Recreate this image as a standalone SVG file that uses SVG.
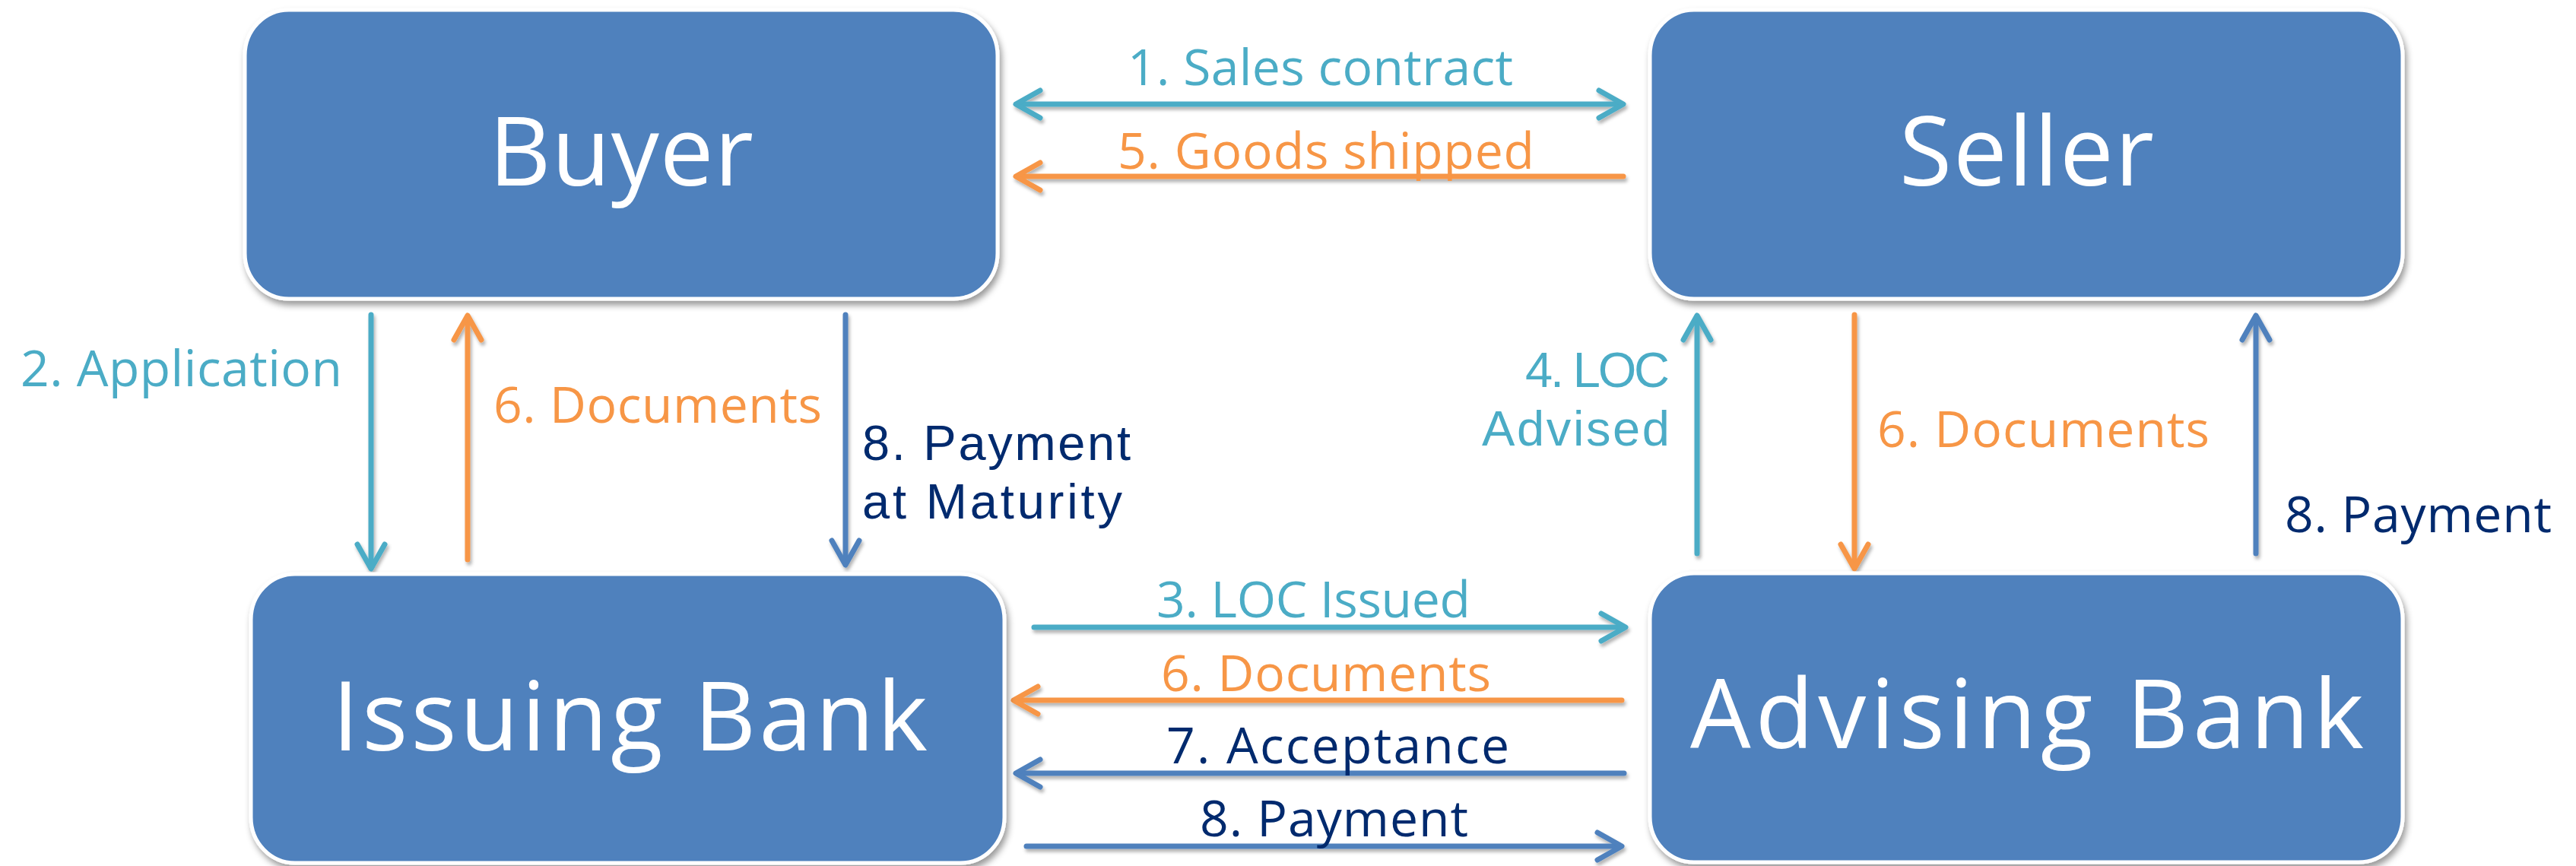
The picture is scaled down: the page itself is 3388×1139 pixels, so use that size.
<svg xmlns="http://www.w3.org/2000/svg" width="3388" height="1139" viewBox="0 0 3388 1139">
<style>
.node{fill:#4F81BD;stroke:#FFFFFF;stroke-width:5;filter:url(#sh)}
.nt{font-family:"Open Sans","Liberation Sans",sans-serif;font-size:126px;fill:#FFFFFF}
.lb{font-family:"Open Sans","Liberation Sans",sans-serif;font-size:66px}
.lb2{font-family:"Liberation Sans",Arial,sans-serif;font-size:65px}
.teal{fill:#4BACC6}.orange{fill:#F79646}.navy{fill:#002A6E}
.c{fill:none;stroke-width:7;stroke-linecap:round}
.ct{stroke:#4BACC6}.co{stroke:#F79646}.cb{stroke:#4F81BD}
</style>
<defs>
<filter id="sh" x="-10%" y="-10%" width="120%" height="130%">
<feDropShadow dx="3" dy="6" stdDeviation="4" flood-color="#000" flood-opacity="0.4"/>
</filter>
<filter id="lsh" x="-5%" y="-50%" width="110%" height="200%">
<feDropShadow dx="2" dy="4" stdDeviation="2" flood-color="#000" flood-opacity="0.3"/>
</filter>
<marker id="at" markerUnits="userSpaceOnUse" markerWidth="60" markerHeight="60" viewBox="-40 -30 60 60" refX="0" refY="0" orient="auto-start-reverse" overflow="visible">
<path d="M -28 -18 L 4 0 L -28 18" fill="none" stroke="#4BACC6" stroke-width="7" stroke-linecap="round" stroke-linejoin="round"/>
</marker>
<marker id="ao" markerUnits="userSpaceOnUse" markerWidth="60" markerHeight="60" viewBox="-40 -30 60 60" refX="0" refY="0" orient="auto-start-reverse" overflow="visible">
<path d="M -28 -18 L 4 0 L -28 18" fill="none" stroke="#F79646" stroke-width="7" stroke-linecap="round" stroke-linejoin="round"/>
</marker>
<marker id="ab" markerUnits="userSpaceOnUse" markerWidth="60" markerHeight="60" viewBox="-40 -30 60 60" refX="0" refY="0" orient="auto-start-reverse" overflow="visible">
<path d="M -28 -18 L 4 0 L -28 18" fill="none" stroke="#4F81BD" stroke-width="7" stroke-linecap="round" stroke-linejoin="round"/>
</marker>
</defs>
<rect width="3388" height="1139" fill="#FFFFFF"/>

<g id="connectors" filter="url(#lsh)">
<path class="c ct" d="M 1340 137 L 2131 137" marker-start="url(#at)" marker-end="url(#at)"/>
<path class="c co" d="M 2135 232 L 1340 232" marker-end="url(#ao)"/>
<path class="c ct" d="M 1360 825 L 2134 825" marker-end="url(#at)"/>
<path class="c co" d="M 2133 921 L 1337 921" marker-end="url(#ao)"/>
<path class="c cb" d="M 2136 1017 L 1340 1017" marker-end="url(#ab)"/>
<path class="c cb" d="M 1350 1113 L 2129 1113" marker-end="url(#ab)"/>
<path class="c ct" d="M 488 414 L 488 744" marker-end="url(#at)"/>
<path class="c co" d="M 615 736 L 615 419" marker-end="url(#ao)"/>
<path class="c cb" d="M 1112 414 L 1112 739" marker-end="url(#ab)"/>
<path class="c ct" d="M 2232 728 L 2232 419" marker-end="url(#at)"/>
<path class="c co" d="M 2439 414 L 2439 744" marker-end="url(#ao)"/>
<path class="c cb" d="M 2967 728 L 2967 419" marker-end="url(#ab)"/>
</g>

<g id="labels">
<text class="lb teal" x="1483" y="112" textLength="507">1. Sales contract</text>
<text class="lb orange" x="1470" y="222" textLength="548">5. Goods shipped</text>
<text class="lb teal" x="1521" y="812" textLength="413">3. LOC Issued</text>
<text class="lb orange" x="1527" y="909" textLength="434">6. Documents</text>
<text class="lb navy" x="1534" y="1004" textLength="451">7. Acceptance</text>
<text class="lb navy" x="1578" y="1100" textLength="353">8. Payment</text>
<text class="lb teal" x="27" y="508" textLength="423">2. Application</text>
<text class="lb orange" x="649" y="556" textLength="432">6. Documents</text>
<text class="lb2 navy" x="1134" y="605" textLength="353">8. Payment</text>
<text class="lb2 navy" x="1134" y="682" textLength="342">at Maturity</text>
<text class="lb2 teal" x="2006" y="509" textLength="190">4. LOC</text>
<text class="lb2 teal" x="1949" y="586" textLength="247">Advised</text>
<text class="lb orange" x="2469" y="588" textLength="437">6. Documents</text>
<text class="lb navy" x="3005" y="700" textLength="351">8. Payment</text>
</g>

<g id="buyer">
<rect class="node" x="322" y="13" width="990" height="380" rx="58" ry="60"/>
<text class="nt" x="643" y="244" textLength="348">Buyer</text>
</g>
<g id="seller">
<rect class="node" x="2170" y="13" width="990" height="380" rx="58" ry="60"/>
<text class="nt" x="2498" y="244" textLength="335">Seller</text>
</g>
<g id="issuing-bank">
<rect class="node" x="330" y="755" width="991" height="380" rx="58" ry="60"/>
<text class="nt" x="437" y="987" textLength="783">Issuing Bank</text>
</g>
<g id="advising-bank">
<rect class="node" x="2170" y="754" width="990" height="380" rx="58" ry="60"/>
<text class="nt" x="2223" y="984" textLength="886">Advising Bank</text>
</g>
</svg>
